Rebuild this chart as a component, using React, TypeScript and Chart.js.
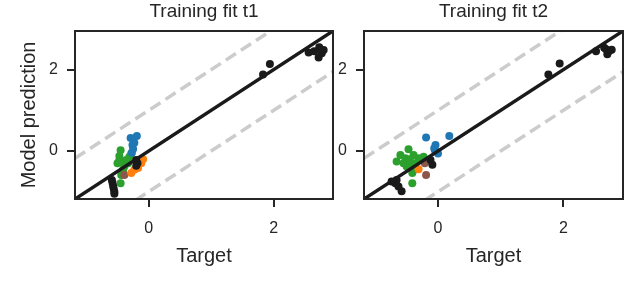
import React, { useEffect, useRef } from "react";
import { Chart, registerables } from "chart.js";

Chart.register(...registerables);

// ---------- data ----------
const PANEL_TITLES = ["Training fit t1", "Training fit t2"];
const X_LABEL = "Target";
const Y_LABEL = "Model prediction";
const TICK_VALUES = [0, 2];
const AXIS_MIN = -1.18;
const AXIS_MAX = 2.95;
const BAND_OFFSET = 1;

type P = [number, number];

const t1Black: P[] = [
  [1.83, 1.88], [1.94, 2.14], [2.56, 2.42], [2.65, 2.45], [2.73, 2.55], [2.77, 2.4], [2.72, 2.3], [2.8, 2.48],
  [-0.59, -0.71], [-0.58, -0.78], [-0.57, -0.86], [-0.56, -0.93], [-0.55, -1.0], [-0.55, -1.05],
  [-0.2, -0.22], [-0.18, -0.3], [-0.2, -0.36],
];
const t1Blue: P[] = [[-0.29, 0.32], [-0.19, 0.37], [-0.26, 0.15], [-0.25, 0.05], [-0.27, -0.04], [-0.23, 0.2]];
const t1Green: P[] = [
  [-0.45, 0.02], [-0.47, -0.22], [-0.44, -0.26], [-0.5, -0.3], [-0.31, -0.14], [-0.28, -0.06], [-0.33, -0.3],
  [-0.41, -0.46], [-0.44, -0.59], [-0.45, -0.79], [-0.39, -0.38], [-0.47, -0.12], [-0.36, -0.22],
];
const t1Orange: P[] = [[-0.09, -0.2], [-0.17, -0.42], [-0.28, -0.54], [-0.12, -0.3], [-0.23, -0.46]];
const t1Brown: P[] = [[-0.39, -0.59]];

const t2Black: P[] = [
  [1.76, 1.88], [1.94, 2.15], [2.52, 2.45], [2.65, 2.54], [2.73, 2.46], [2.7, 2.38], [2.68, 2.5], [2.77, 2.49],
  [-0.68, -0.79], [-0.63, -0.87], [-0.58, -0.99], [-0.74, -0.75], [-0.66, -0.71], [-0.09, -0.34], [-0.12, -0.22],
];
const t2Blue: P[] = [[-0.19, 0.33], [0.18, 0.37], [-0.04, 0.15], [-0.05, 0.02], [0.0, -0.06], [-0.06, 0.07]];
const t2Green: P[] = [
  [-0.47, 0.04], [-0.6, -0.1], [-0.66, -0.26], [-0.52, -0.18], [-0.39, -0.1], [-0.44, -0.3], [-0.31, -0.18],
  [-0.23, -0.14], [-0.5, -0.38], [-0.41, -0.54], [-0.41, -0.79], [-0.36, -0.3], [-0.55, -0.3], [-0.45, -0.2],
  [-0.35, -0.45],
];
const t2Orange: P[] = [[-0.31, -0.45]];
const t2Brown: P[] = [[-0.19, -0.59], [-0.21, -0.3]];

// ---------- style ----------
const INK = "#262626";
const FONT = "'Liberation Sans', Arial, sans-serif";
const COLORS = { black: "#1a1a1a", blue: "#1f77b4", orange: "#ff7f0e", green: "#2ca02c", brown: "#8c564b" };

const toXY = (arr: P[]) => arr.map(([x, y]) => ({ x, y }));

function pointsDs(data: P[], color: string) {
  return {
    type: "scatter" as const,
    data: toXY(data),
    backgroundColor: color,
    borderWidth: 0,
    pointRadius: 4,
    pointHoverRadius: 4,
    showLine: false,
  };
}

function lineDs(offset: number, color: string, width: number, dash: number[]) {
  return {
    type: "line" as const,
    data: [
      { x: AXIS_MIN, y: AXIS_MIN + offset },
      { x: AXIS_MAX, y: AXIS_MAX + offset },
    ],
    borderColor: color,
    borderWidth: width,
    borderDash: dash,
    pointRadius: 0,
    fill: false,
    clip: 0,
    borderCapStyle: "butt" as const,
  };
}

function Panel({ index, series }: { index: number; series: P[][] }) {
  const ref = useRef<HTMLCanvasElement | null>(null);
  useEffect(() => {
    const canvas = ref.current;
    if (!canvas) return;
    const [black, blue, orange, brown, green] = series;
    const isLeft = index === 0;

    const framePlugin = {
      id: "frameTitle" + index,
      afterDatasetsDraw(chart: any) {
        const { ctx, chartArea } = chart;
        ctx.save();
        ctx.strokeStyle = INK;
        ctx.lineWidth = 2;
        ctx.strokeRect(chartArea.left, chartArea.top, chartArea.right - chartArea.left, chartArea.bottom - chartArea.top);
        ctx.restore();
      },
      afterDraw(chart: any) {
        const { ctx, chartArea } = chart;
        ctx.save();
        ctx.fillStyle = INK;
        ctx.font = "19px " + FONT;
        ctx.textAlign = "center";
        ctx.textBaseline = "alphabetic";
        ctx.fillText(PANEL_TITLES[index], (chartArea.left + chartArea.right) / 2, 17);
        ctx.restore();
      },
    };

    const chart = new Chart(canvas, {
      type: "scatter",
      data: {
        datasets: [
          lineDs(0, "#1a1a1a", 3.5, []),
          pointsDs(black, COLORS.black),
          pointsDs(blue, COLORS.blue),
          pointsDs(orange, COLORS.orange),
          pointsDs(brown, COLORS.brown),
          pointsDs(green, COLORS.green),
          lineDs(BAND_OFFSET, "#cccccc", 3.5, [12, 6]),
          lineDs(-BAND_OFFSET, "#cccccc", 3.5, [12, 6]),
        ] as any,
      },
      options: {
        responsive: false,
        animation: false,
        devicePixelRatio: 1,
        layout: {
          padding: isLeft
            ? { left: 0, right: 307, top: 31, bottom: 0 }
            : { left: 334, right: 17, top: 31, bottom: 0 },
        },
        plugins: { legend: { display: false }, tooltip: { enabled: false }, title: { display: false } },
        scales: {
          x: {
            type: "linear",
            min: AXIS_MIN,
            max: AXIS_MAX,
            afterBuildTicks: (s: any) => {
              s.ticks = TICK_VALUES.map((v) => ({ value: v }));
            },
            afterFit: (s: any) => {
              s.height = 94;
            },
            border: { display: false },
            grid: { display: true, drawOnChartArea: false, drawTicks: true, tickLength: 8, color: INK, lineWidth: 2 },
            ticks: { color: INK, font: { family: FONT, size: 16 }, padding: 12, maxRotation: 0, callback: (v: any) => String(v) },
            title: { display: true, text: X_LABEL, color: INK, font: { family: FONT, size: 20 }, padding: { top: 0, bottom: 25 } },
          },
          y: {
            type: "linear",
            min: AXIS_MIN,
            max: AXIS_MAX,
            afterBuildTicks: (s: any) => {
              s.ticks = TICK_VALUES.map((v) => ({ value: v }));
            },
            afterFit: (s: any) => {
              s.width = isLeft ? 75 : 30;
            },
            border: { display: false },
            grid: { display: true, drawOnChartArea: false, drawTicks: true, tickLength: 8, color: INK, lineWidth: 2 },
            ticks: { color: INK, font: { family: FONT, size: 16 }, padding: 9, callback: (v: any) => String(v) },
            title: {
              display: isLeft,
              text: Y_LABEL,
              color: INK,
              font: { family: FONT, size: 20 },
              padding: { top: 17, bottom: 0 },
            },
          },
        },
      },
      plugins: [framePlugin],
    } as any);
    return () => chart.destroy();
  }, [index, series]);

  return (
    <canvas
      ref={ref}
      width={640}
      height={293}
      style={{ position: "absolute", left: 0, top: 0, width: 640, height: 293 }}
    />
  );
}

const PANEL1 = [t1Black, t1Blue, t1Orange, t1Brown, t1Green];
const PANEL2 = [t2Black, t2Blue, t2Orange, t2Brown, t2Green];

export default function App() {
  return (
    <div style={{ position: "fixed", left: 0, top: 0, width: 640, height: 293, background: "#ffffff" }}>
      <Panel index={0} series={PANEL1} />
      <Panel index={1} series={PANEL2} />
    </div>
  );
}
